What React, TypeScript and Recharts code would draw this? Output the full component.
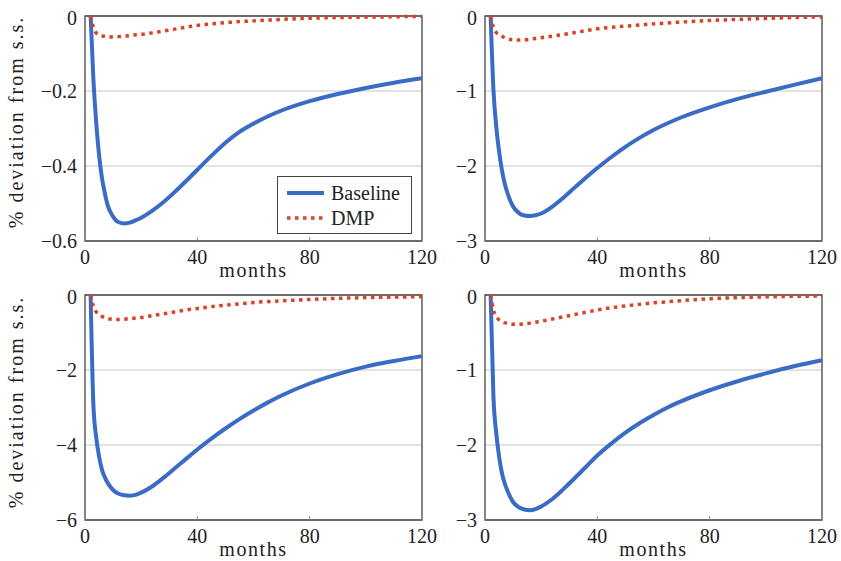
import { CartesianGrid, Legend, Line, LineChart, ReferenceArea, XAxis, YAxis } from "recharts"

// impulse responses (months after shock)
const months = [2, 3, 4, 5, 6, 7, 8, 10, 12, 14, 16, 18, 20, 24, 28, 32, 36, 40, 45, 50, 55, 60, 65, 70, 80, 90, 100, 110, 120]
const monthTicks = [0, 40, 80, 120]

const baselineTL = [0, -0.17, -0.285, -0.37, -0.43, -0.47, -0.503, -0.535, -0.55, -0.553, -0.551, -0.545, -0.538, -0.519, -0.496, -0.469, -0.44, -0.41, -0.373, -0.338, -0.309, -0.287, -0.268, -0.252, -0.227, -0.208, -0.192, -0.178, -0.166]
const dmpTL = [0, -0.03, -0.045, -0.05, -0.053, -0.054, -0.055, -0.056, -0.055, -0.054, -0.052, -0.05, -0.049, -0.045, -0.04, -0.035, -0.03, -0.025, -0.021, -0.018, -0.015, -0.013, -0.011, -0.009, -0.006, -0.004, -0.003, -0.002, -0.001]

const baselineTR = [0, -0.98, -1.47, -1.8, -2.05, -2.23, -2.36, -2.54, -2.625, -2.66, -2.667, -2.657, -2.633, -2.541, -2.419, -2.285, -2.153, -2.027, -1.88, -1.745, -1.625, -1.52, -1.43, -1.35, -1.218, -1.105, -1.01, -0.918, -0.83]
const dmpTR = [0, -0.15, -0.22, -0.25, -0.27, -0.29, -0.305, -0.318, -0.32, -0.317, -0.31, -0.3, -0.29, -0.268, -0.245, -0.22, -0.195, -0.17, -0.152, -0.135, -0.12, -0.105, -0.092, -0.08, -0.06, -0.045, -0.032, -0.02, -0.012]

const baselineBL = [0, -2.95, -3.8, -4.3, -4.65, -4.85, -5.0, -5.2, -5.3, -5.34, -5.35, -5.33, -5.27, -5.1, -4.87, -4.62, -4.37, -4.12, -3.83, -3.56, -3.31, -3.08, -2.87, -2.68, -2.36, -2.11, -1.91, -1.76, -1.63]
const dmpBL = [0, -0.3, -0.45, -0.52, -0.57, -0.6, -0.63, -0.65, -0.655, -0.645, -0.63, -0.615, -0.6, -0.55, -0.5, -0.45, -0.4, -0.36, -0.31, -0.27, -0.235, -0.2, -0.175, -0.155, -0.12, -0.09, -0.07, -0.055, -0.045]

const baselineBR = [0, -1.35, -1.84, -2.15, -2.37, -2.51, -2.61, -2.76, -2.83, -2.86, -2.87, -2.855, -2.82, -2.72, -2.585, -2.44, -2.29, -2.14, -1.98, -1.835, -1.71, -1.6, -1.5, -1.415, -1.27, -1.15, -1.045, -0.95, -0.87]
const dmpBR = [0, -0.2, -0.29, -0.33, -0.35, -0.37, -0.38, -0.39, -0.39, -0.383, -0.375, -0.362, -0.35, -0.32, -0.29, -0.26, -0.23, -0.2, -0.17, -0.145, -0.125, -0.105, -0.09, -0.075, -0.05, -0.035, -0.025, -0.018, -0.013]

const ticksSmall = [-0.6, -0.4, -0.2, 0]
const ticksMid = [-3, -2, -1, 0]
const ticksBig = [-6, -4, -2, 0]

const FONT = "Liberation Serif, Times New Roman, serif"
const BLUE = "#3a6cc6"
const RED = "#db4128"
const INK = "#222"

const PLOT_W = 337
const PLOT_H = 225
const AXIS_W = 70
const AXIS_H = 45
const TOP = 10
const RIGHT = 20

const seriesStyle: Record<string, { stroke: string; width: number; dash?: string }> = {
  Baseline: { stroke: BLUE, width: 4 },
  DMP: { stroke: RED, width: 3.5, dash: "3.5 4.5" },
}

const fmt = (v: number) => (v < 0 ? `\u2212${Math.abs(v)}` : String(v))

function LegendBox({ payload }: { payload?: any[] }) {
  return (
    <div
      style={{
        width: 135,
        height: 58,
        boxSizing: "border-box",
        border: "1.3px solid #444",
        background: "#fff",
        padding: "3px 0 0 9px",
      }}
    >
      {(payload ?? []).map((entry) => {
        const s = seriesStyle[entry.value]
        return (
          <div key={entry.value} style={{ display: "flex", alignItems: "center", height: 25.6 }}>
            <svg width={37} height={8}>
              <line x1={0} x2={37} y1={4} y2={4} stroke={s.stroke} strokeWidth={s.width} strokeDasharray={s.dash} />
            </svg>
            <span style={{ marginLeft: 7, fontSize: 20, lineHeight: 1, color: INK, fontFamily: FONT }}>{entry.value}</span>
          </div>
        )
      })}
    </div>
  )
}

function Panel({
  left,
  top,
  ticks,
  baseline,
  dmp,
  legend = false,
}: {
  left: number
  top: number
  ticks: number[]
  baseline: number[]
  dmp: number[]
  legend?: boolean
}) {
  const data = months.map((month, i) => ({ month, baseline: baseline[i], dmp: dmp[i] }))
  const yMin = ticks[0]
  const tickStyle = { fill: INK, fontSize: 20, fontFamily: FONT }

  return (
    <div style={{ position: "absolute", left: left - AXIS_W, top: top - TOP }}>
      <LineChart
        width={AXIS_W + PLOT_W + RIGHT}
        height={TOP + PLOT_H + AXIS_H}
        data={data}
        margin={{ top: TOP - 1, right: RIGHT, bottom: 0, left: 0 }}
        style={{ fontFamily: FONT }}
      >
        <CartesianGrid vertical={false} stroke="#c6c6c6" strokeWidth={1} />
        <XAxis
          dataKey="month"
          type="number"
          domain={[0, 120]}
          ticks={monthTicks}
          height={AXIS_H}
          axisLine={false}
          tickSize={-4}
          tickMargin={13}
          tickLine={{ stroke: "#8a8a8a" }}
          tick={tickStyle}
          label={{
            value: "months",
            position: "insideBottom",
            offset: 9,
            style: { fill: INK, fontSize: 20, fontFamily: FONT, letterSpacing: 1.6 },
          }}
        />
        <XAxis
          xAxisId="top"
          orientation="top"
          type="number"
          domain={[0, 120]}
          ticks={monthTicks}
          height={1}
          axisLine={false}
          tick={false}
          tickSize={-4}
          tickLine={{ stroke: "#8a8a8a" }}
        />
        <YAxis
          type="number"
          domain={[yMin, 0]}
          ticks={ticks}
          width={AXIS_W}
          axisLine={false}
          tickLine={false}
          tickSize={0}
          tickMargin={8}
          tickFormatter={fmt}
          tick={tickStyle}
        />
        <ReferenceArea x1={0} x2={120} y1={yMin} y2={0} fill="none" stroke="#444" strokeWidth={1.3} />
        <Line
          type="monotone"
          dataKey="baseline"
          name="Baseline"
          stroke={BLUE}
          strokeWidth={4}
          dot={false}
          isAnimationActive={false}
        />
        <Line
          type="monotone"
          dataKey="dmp"
          name="DMP"
          stroke={RED}
          strokeWidth={3.5}
          strokeDasharray="3.5 4.5"
          dot={false}
          isAnimationActive={false}
        />
        {legend && (
          <Legend
            layout="vertical"
            align="center"
            verticalAlign="middle"
            wrapperStyle={{ left: 277 - (left - AXIS_W), top: 176 - (top - TOP), width: 135 }}
            content={(props: any) => <LegendBox payload={props.payload} />}
          />
        )}
      </LineChart>
    </div>
  )
}

function YLabel({ cy }: { cy: number }) {
  return (
    <div
      style={{
        position: "absolute",
        left: 16,
        top: cy,
        transform: "translate(-50%, -50%) rotate(-90deg)",
        whiteSpace: "nowrap",
        fontFamily: FONT,
        fontSize: 20,
        letterSpacing: 2,
        color: INK,
      }}
    >
      % deviation from s.s.
    </div>
  )
}

export default function App() {
  return (
    <div
      style={{
        position: "absolute",
        left: 0,
        top: 0,
        width: 841,
        height: 561,
        overflow: "hidden",
        background: "#fff",
        fontFamily: FONT,
      }}
    >
      <Panel left={85} top={16} ticks={ticksSmall} baseline={baselineTL} dmp={dmpTL} legend />
      <Panel left={485} top={16} ticks={ticksMid} baseline={baselineTR} dmp={dmpTR} />
      <Panel left={85} top={295} ticks={ticksBig} baseline={baselineBL} dmp={dmpBL} />
      <Panel left={485} top={295} ticks={ticksMid} baseline={baselineBR} dmp={dmpBR} />
      <YLabel cy={122} />
      <YLabel cy={402} />
    </div>
  )
}
